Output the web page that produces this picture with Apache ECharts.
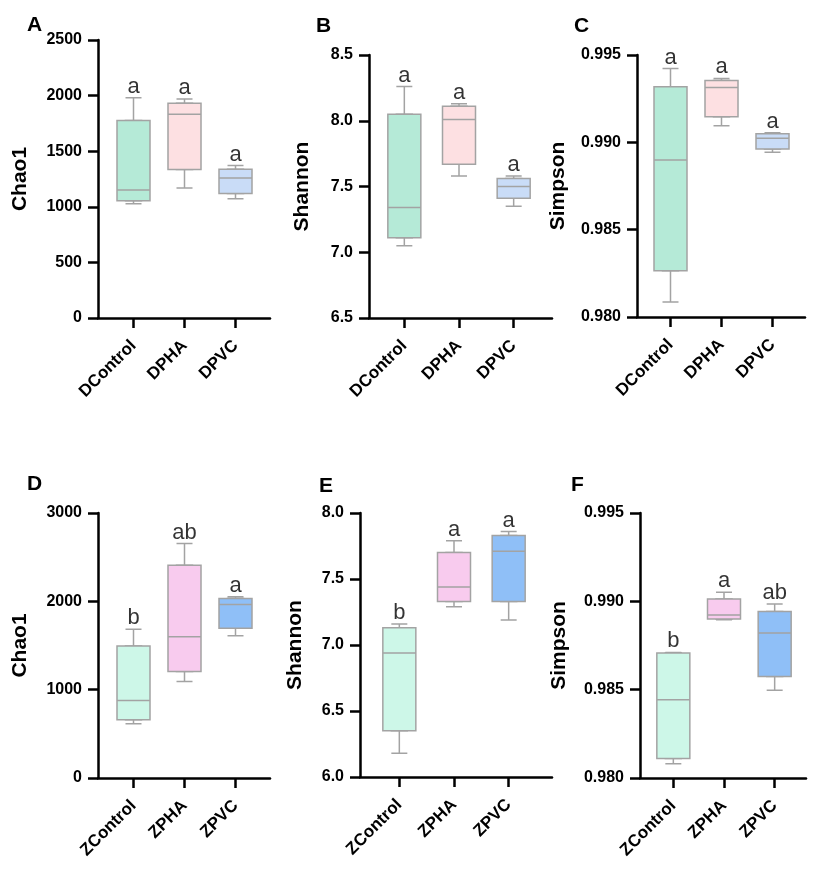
<!DOCTYPE html>
<html>
<head>
<meta charset="utf-8">
<script src="https://cdn.jsdelivr.net/npm/echarts@6/dist/echarts.min.js"></script>
<style>
html,body{margin:0;padding:0;background:#fff;}
#chart{width:817px;height:876px;}
</style>
</head>
<body>
<div id="chart"></div>
<script>
// ---- data ----
const groupsD = ['DControl', 'DPHA', 'DPVC'];
const groupsZ = ['ZControl', 'ZPHA', 'ZPVC'];
// [min, Q1, median, Q3, max]
const chaoD = [[1027, 1054, 1150, 1775, 1981], [1168, 1335, 1833, 1931, 1970], [1072, 1119, 1258, 1338, 1371]];
const shannonD = [[7.05, 7.11, 7.34, 8.05, 8.26], [7.58, 7.67, 8.01, 8.11, 8.13], [7.35, 7.41, 7.50, 7.56, 7.58]];
const simpsonD = [[0.98086, 0.98265, 0.98899, 0.99318, 0.99423], [0.99095, 0.99146, 0.99314, 0.99354, 0.99366], [0.98943, 0.98962, 0.99023, 0.99049, 0.99055]];
const chaoZ = [[614, 659, 877, 1494, 1683], [1092, 1205, 1600, 2409, 2654], [1611, 1694, 1965, 2033, 2051]];
const shannonZ = [[6.18, 6.35, 6.94, 7.13, 7.16], [7.29, 7.33, 7.44, 7.70, 7.79], [7.19, 7.33, 7.71, 7.83, 7.86]];
const simpsonZ = [[0.98081, 0.98111, 0.98443, 0.98708, 0.98711], [0.98896, 0.98900, 0.98923, 0.99013, 0.99051], [0.98496, 0.98575, 0.98821, 0.98943, 0.98985]];
const lettersA = ['a', 'a', 'a'];
const lettersB = ['a', 'a', 'a'];
const lettersC = ['a', 'a', 'a'];
const lettersD = ['b', 'ab', 'a'];
const lettersE = ['b', 'a', 'a'];
const lettersF = ['b', 'a', 'ab'];
const ticksChaoD = [0, 500, 1000, 1500, 2000, 2500];
const ticksShannonD = [6.5, 7.0, 7.5, 8.0, 8.5];
const ticksSimpson = [0.980, 0.985, 0.990, 0.995];
const ticksChaoZ = [0, 1000, 2000, 3000];
const ticksShannonZ = [6.0, 6.5, 7.0, 7.5, 8.0];
const fillsD = ['#b5ead7', '#fde0e2', '#c9dcf7'];
const fillsZ = ['#cdf7e8', '#f8cbee', '#8fbff7'];

// ---- layout (pixels) ----
const FONT = "Arial, 'Liberation Sans', sans-serif";
const panels = [
  {tag:'A', name:'Chao1', cats:groupsD, vals:chaoD, letters:lettersA, ticks:ticksChaoD, dec:0, fills:fillsD,
   axX:98, endX:270, top:40, bot:318, pl:108, pw:153, gap:67, tagX:22, tagY:10},
  {tag:'B', name:'Shannon', cats:groupsD, vals:shannonD, letters:lettersB, ticks:ticksShannonD, dec:1, fills:fillsD,
   axX:369, endX:552, top:55, bot:318, pl:377, pw:164, gap:56, tagX:311, tagY:11},
  {tag:'C', name:'Simpson', cats:groupsD, vals:simpsonD, letters:lettersC, ticks:ticksSimpson, dec:3, fills:fillsD,
   axX:637, endX:805, top:55, bot:317, pl:645, pw:153, gap:68, tagX:569, tagY:11},
  {tag:'D', name:'Chao1', cats:groupsZ, vals:chaoZ, letters:lettersD, ticks:ticksChaoZ, dec:0, fills:fillsZ,
   axX:98, endX:270, top:513, bot:778, pl:108, pw:153, gap:67, tagX:22, tagY:469},
  {tag:'E', name:'Shannon', cats:groupsZ, vals:shannonZ, letters:lettersE, ticks:ticksShannonZ, dec:1, fills:fillsZ,
   axX:360, endX:552, top:513, bot:777, pl:372, pw:164, gap:54, tagX:314, tagY:471},
  {tag:'F', name:'Simpson', cats:groupsZ, vals:simpsonZ, letters:lettersF, ticks:ticksSimpson, dec:3, fills:fillsZ,
   axX:640, endX:806, top:513, bot:778, pl:648, pw:152, gap:70, tagX:566, tagY:470}
];

const W = 817, H = 876;
const option = {
  backgroundColor:'#fff', animation:false,
  title:[], grid:[], xAxis:[], yAxis:[], series:[]
};
const BLACK = '#000';
const GREY = '#a3a3a3';

panels.forEach(function(p, i){
  const ymin = p.ticks[0], ymax = p.ticks[p.ticks.length-1];
  const step = p.ticks[1]-p.ticks[0];
  option.title.push({text:p.tag, left:p.tagX, top:p.tagY,
    textStyle:{fontFamily:FONT, fontSize:21, fontWeight:'bold', color:BLACK}});
  // frame grid
  const gF = option.grid.length;
  option.grid.push({left:p.axX, width:p.endX-p.axX, top:p.top, height:p.bot-p.top, containLabel:false});
  // plot grid
  const gP = option.grid.length;
  option.grid.push({left:p.pl, width:p.pw, top:p.top, height:p.bot-p.top, containLabel:false});

  const xF = option.xAxis.length;
  option.xAxis.push({gridIndex:gF, type:'value', min:0, max:1,
    axisLine:{show:true, onZero:false, lineStyle:{color:BLACK, width:2.5}},
    axisTick:{show:false}, axisLabel:{show:false}, splitLine:{show:false}});
  const xP = option.xAxis.length;
  option.xAxis.push({gridIndex:gP, type:'category', data:p.cats,
    axisLine:{show:false},
    axisTick:{show:true, alignWithLabel:true, length:10, lineStyle:{color:BLACK, width:2.5}},
    axisLabel:{show:true, interval:0, rotate:45, margin:25, fontFamily:FONT, fontSize:17, fontWeight:'bold', color:BLACK},
    splitLine:{show:false}});
  const xN = option.xAxis.length;
  option.xAxis.push({gridIndex:gP, type:'category', data:p.cats, show:false});

  const yF = option.yAxis.length;
  option.yAxis.push({gridIndex:gF, type:'value', min:ymin, max:ymax, interval:step,
    axisLine:{show:true, onZero:false, lineStyle:{color:BLACK, width:2.5}},
    axisTick:{show:true, length:10, lineStyle:{color:BLACK, width:2.5}},
    axisLabel:{show:true, margin:16, fontFamily:FONT, fontSize:16, fontWeight:'bold', color:BLACK,
      formatter:function(v){ return Number(v).toFixed(p.dec); }},
    splitLine:{show:false},
    name:p.name, nameLocation:'middle', nameGap:p.gap, nameRotate:90,
    nameTextStyle:{fontFamily:FONT, fontSize:21, fontWeight:'bold', color:BLACK}});
  const yP = option.yAxis.length;
  option.yAxis.push({gridIndex:gP, type:'value', min:ymin, max:ymax, interval:step, show:false});

  // dummy series for frame axes
  option.series.push({type:'line', xAxisIndex:xF, yAxisIndex:yF, data:[], silent:true});

  // narrow series: whiskers with short caps
  option.series.push({type:'boxplot', xAxisIndex:xN, yAxisIndex:yP, boxWidth:[16,16], z:2, silent:true,
    itemStyle:{borderColor:GREY, borderWidth:1.5},
    data:p.vals.map(function(v, k){ return {value:v.slice(), itemStyle:{color:p.fills[k], borderColor:GREY}}; })});
  // wide series: boxes
  option.series.push({type:'boxplot', xAxisIndex:xP, yAxisIndex:yP, boxWidth:[33,33], z:3, silent:true,
    itemStyle:{borderColor:GREY, borderWidth:1.5},
    data:p.vals.map(function(v, k){ return {value:[v[1], v[1], v[2], v[3], v[3]], itemStyle:{color:p.fills[k], borderColor:GREY}}; })});
  // significance letters
  option.series.push({type:'scatter', xAxisIndex:xP, yAxisIndex:yP, symbolSize:0, z:4, silent:true,
    data:p.vals.map(function(v, k){ return {value:[k, v[4]], name:p.letters[k]}; }),
    label:{show:true, position:'top', distance:0, formatter:function(d){ return d.name; },
      fontFamily:FONT, fontSize:22, color:BLACK}});
});

const chart = echarts.init(document.getElementById('chart'), null, {renderer:'canvas', width:W, height:H});
chart.setOption(option);
</script>
</body>
</html>
